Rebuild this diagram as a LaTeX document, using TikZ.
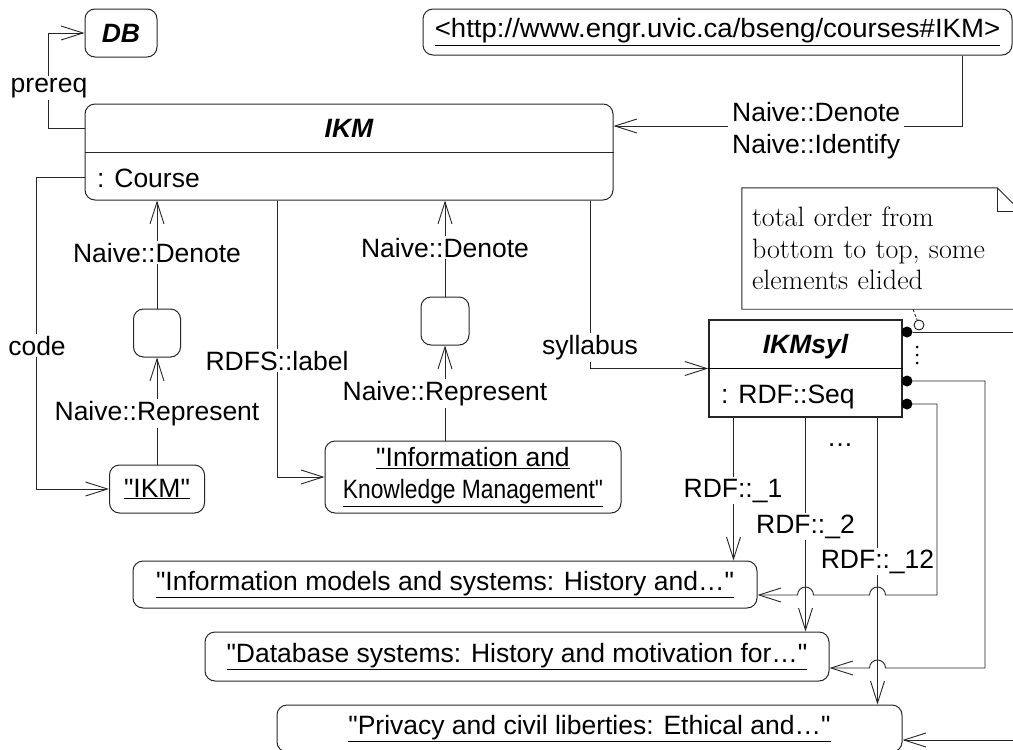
\documentclass[tikz,border=0pt]{standalone}
\usepackage{fontspec}
\newfontfamily\uifont{Liberation Sans}[Ligatures=TeXOff]
\newcommand\ui{\uifont\fontsize{26.5}{32}\selectfont}
\usetikzlibrary{arrows.meta,positioning}

\begin{document}
\begin{tikzpicture}[x=1pt, y=-1pt,
  txt/.style={font=\ui, inner sep=2pt},
  obj/.style={txt, draw=black!85, line width=1pt, rounded corners=10pt,
              align=center, inner sep=0pt},
  cls/.style={obj, rounded corners=0pt, line width=1.5pt},
  lbl/.style={txt, fill=white},
  ttl/.style={txt, anchor=base, font=\ui\bfseries\itshape},
  arr/.style={-{Straight Barb[length=22pt,width=14pt]}, line width=0.9pt,
              draw=black!85},
  ln/.style={line width=0.9pt, draw=black!85},
  ball/.style={circle, fill, inner sep=0pt, minimum size=11pt},
  hump/.style={start angle=0, end angle=180, radius=8pt}
]
\useasboundingbox (0,0) rectangle (1013,750);
\fill[white] (0,0) rectangle (1013,750);

% objects
\node[obj, minimum width=72pt, minimum height=48pt,
      font=\ui\bfseries\itshape] (db) at (121,33) {DB};
\node[obj, minimum width=589pt, minimum height=46pt] (uri) at (717.5,32)
  {\scalebox{1.04}[1]{\underline{<http://www.engr.uvic.ca/bseng/courses\#IKM>}}};

\node[obj, minimum width=528pt, minimum height=96pt] (ikm) at (349,152) {};
\node[ttl] (ikmname) at (349,137) {IKM};
\node[txt, anchor=base west] (ikmtype) at (95,187) {: Course};
\draw[ln] (ikm.west) -- (ikm.east);

\node[obj, minimum width=47pt, minimum height=48pt] (rep1) at (157,333) {};
\node[obj, minimum width=48pt, minimum height=48pt] (rep2) at (445,321) {};
\node[obj, minimum width=95pt, minimum height=48pt] (lit) at (157,489)
  {\underline{"IKM"}};
\node[obj, minimum width=296pt, minimum height=72pt] (title) at (473,477)
  {\underline{"Information and}\\\scalebox{0.86}[1]{\underline{Knowledge Management"}}};

\node[cls, minimum width=193pt, minimum height=97pt] (syl) at (805.5,368.5) {};
\node[ttl] (sylname) at (805.5,353) {IKMsyl};
\node[txt, anchor=base west] (syltype) at (719,403) {: RDF::Seq};
\draw[line width=1.5pt] (syl.west) -- (syl.east);

\node[obj, minimum width=624pt, minimum height=47pt] (top1) at (445,584.5)
  {\underline{"Information models and systems: History and…"}};
\node[obj, minimum width=624pt, minimum height=49pt] (top2) at (517,656.5)
  {\underline{"Database systems: History and motivation for…"}};
\node[obj, minimum width=625pt, minimum height=47pt] (top12) at (589.5,728.5)
  {\underline{"Privacy and civil liberties: Ethical and…"}};

% note
\node[txt, font=\rmfamily\fontsize{28}{31.5}\selectfont, minimum width=279pt,
      minimum height=121pt, text width=259pt, inner xsep=10pt, align=left]
  (note) at (881.5,248.5) {total order from\\bottom to top, some\\elements elided};
\draw[ln] (note.north west) -- ([xshift=-24pt]note.north east)
  -- ([yshift=-24pt]note.north east) -- (note.south east)
  -- (note.south west) -- cycle;
\draw[ln] ([xshift=-24pt]note.north east) |- ([yshift=-24pt]note.north east);

% ends of the ordered links
\node[ball] (d1) at (907,332) {};
\node[ball] (d2) at (907,381) {};
\node[ball] (d3) at (907,404) {};
\foreach \i/\yy in {1/347,2/355,3/363}
  \node[circle, fill, inner sep=0pt, minimum size=3pt] (vd\i) at (917,\yy) {};
\node[circle, draw, fill=white, inner sep=0pt, minimum size=10pt,
      line width=0.8pt] (ring) at (919,325) {};
\draw[ln, densely dashed] ([xshift=31.5pt]note.south) -- (ring);

% links of IKM
\draw[arr] ([yshift=24pt]ikm.west) -- ++(-36,0) |- (db.west);
\draw[arr] ([yshift=-25pt]ikm.west) -- ++(-48,0) |- (lit.west);
\draw[arr] ([xshift=-72pt]ikm.south) |- (title.west);
\draw[arr] ([xshift=241pt]ikm.south) |- (syl.west);
\draw[arr] ([xshift=244.5pt]uri.south) |- ([yshift=26pt]ikm.east);
\draw[arr] (rep1.north) -- (rep1.north |- ikm.south);
\draw[arr] (lit.north) -- (rep1.south);
\draw[arr] (rep2.north) -- (rep2.north |- ikm.south);
\draw[arr] (rep2.south |- title.north) -- (rep2.south);

\node[lbl, anchor=base] (lprereq) at (49,92) {prereq};
\node[lbl, anchor=base] (lcode) at (37,355) {code};
\node[lbl, anchor=base] (llabel) at (277,370) {RDFS::label};
\node[lbl, anchor=base] (lsyl) at (590,354) {syllabus};
\node[lbl, anchor=base] (lden1) at (157,262) {Naive::Denote};
\node[lbl, anchor=base] (lrep1) at (157,420) {Naive::Represent};
\node[lbl, anchor=base] (lden2) at (445,257) {Naive::Denote};
\node[lbl, anchor=base] (lrep2) at (445,400) {Naive::Represent};
\node[lbl, align=left, anchor=west, inner sep=4pt] (lident) at (728,131)
  {Naive::Denote\\Naive::Identify};

% members of IKMsyl
\coordinate (r1) at ([xshift=-72pt]syl.south);
\coordinate (r12) at ([xshift=72pt]syl.south);
\draw[arr] (r1) -- (r1 |- top1.north);
\draw[arr] (syl.south) -- (syl.south |- top2.north);
\draw[arr] (r12) -- (r12 |- top12.north);
\node[txt, anchor=base] (more) at (840,446) {…};

\node[lbl, anchor=base] (l1) at (733,497) {RDF::\_1};
\node[lbl, anchor=base] (l2) at (805.5,533) {RDF::\_2};
\node[lbl, anchor=base] (l12) at (877.5,568) {RDF::\_12};

\draw[arr] (d3) -- ++(30,0) |- (885.5,595) arc[hump] -- (813.5,595) arc[hump]
  -- ([yshift=-10.5pt]top1.east);
\draw[arr] (d2) -- ++(78,0) |- (885.5,668) arc[hump]
  -- ([yshift=-11.5pt]top2.east);
\draw[arr] (d1) -- ++(123,0) |- ([yshift=-11.5pt]top12.east);
\end{tikzpicture}
\end{document}
